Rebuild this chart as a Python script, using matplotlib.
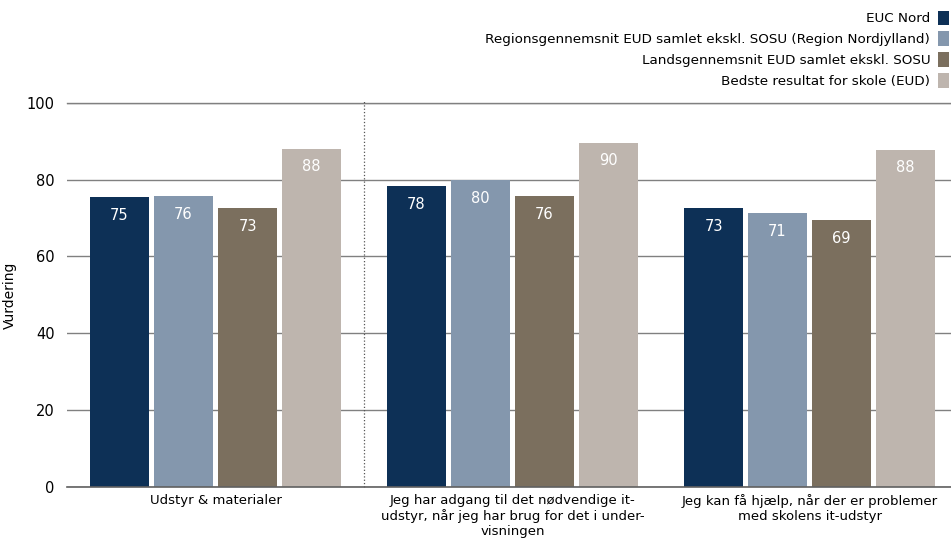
import matplotlib
matplotlib.use("Agg")
import matplotlib.pyplot as plt
import numpy as np

# data
categories = [
    "Udstyr & materialer",
    "Jeg har adgang til det nødvendige it-\nudstyr, når jeg har brug for det i under-\nvisningen",
    "Jeg kan få hjælp, når der er problemer\nmed skolens it-udstyr",
]
series = [
    "EUC Nord",
    "Regionsgennemsnit EUD samlet ekskl. SOSU (Region Nordjylland)",
    "Landsgennemsnit EUD samlet ekskl. SOSU",
    "Bedste resultat for skole (EUD)",
]
euc_nord = [75.4, 78.2, 72.6]
region = [75.6, 79.8, 71.2]
lands = [72.6, 75.6, 69.4]
bedste = [88.0, 89.6, 87.8]
values = [euc_nord, region, lands, bedste]
colors = ["#0d3056", "#8497ad", "#7b6f5e", "#beb5ae"]

plt.rcParams["font.family"] = ["DejaVu Sans"]

W, H = 951, 552
fig = plt.figure(figsize=(W / 100, H / 100), dpi=100)
ax = fig.add_axes([67 / W, (H - 487) / H, (W - 67) / W, (487 - 102.7) / H])

x = np.arange(len(categories))
step = 64 / 297
width = 58.5 / 297
for i, (name, vals, col) in enumerate(zip(series, values, colors)):
    bars = ax.bar(x + (i - 1.5) * step, vals, width, color=col, label=name, zorder=2)
    for b, v in zip(bars, vals):
        ax.annotate(f"{round(v)}", (b.get_x() + b.get_width() / 2, v),
                    xytext=(0, -13), textcoords="offset points",
                    ha="center", va="center", color="white", fontsize=10.5)

ax.set_xlim(-0.5, 2.5 - 7 / 297)
ax.set_ylim(0, 100)
ax.set_yticks([0, 20, 40, 60, 80, 100])
ax.set_xticks(x)
ax.set_xticklabels(categories, fontsize=9.5)
ax.tick_params(axis="x", length=0, pad=5)
ax.tick_params(axis="y", length=0, pad=9, labelsize=10.5)
ax.yaxis.grid(True, color="#808080", linewidth=1, zorder=0)
ax.set_axisbelow(True)
for s in ax.spines.values():
    s.set_visible(False)
ax.axhline(0, color="#606060", linewidth=1.2, zorder=3, clip_on=False)
ax.axhline(100, color="#808080", linewidth=1, zorder=0, clip_on=False)

ax.axvline(0.5, ymax=1.005, color="#555555", linestyle=":", linewidth=0.9, clip_on=False)

ax.set_ylabel("Vurdering", fontsize=10, labelpad=8)
ax.yaxis.set_label_coords(-50 / (W - 67), 0.5)

ax.legend(loc="upper right", bbox_to_anchor=(949 / W, 1 - 10.5 / H),
          bbox_transform=fig.transFigure, frameon=False, markerfirst=False,
          fontsize=9.7, handlelength=0.8, handleheight=1.3, handletextpad=0.6,
          labelspacing=0.45, borderpad=0, borderaxespad=0)

fig.savefig("out.png", dpi=100)
